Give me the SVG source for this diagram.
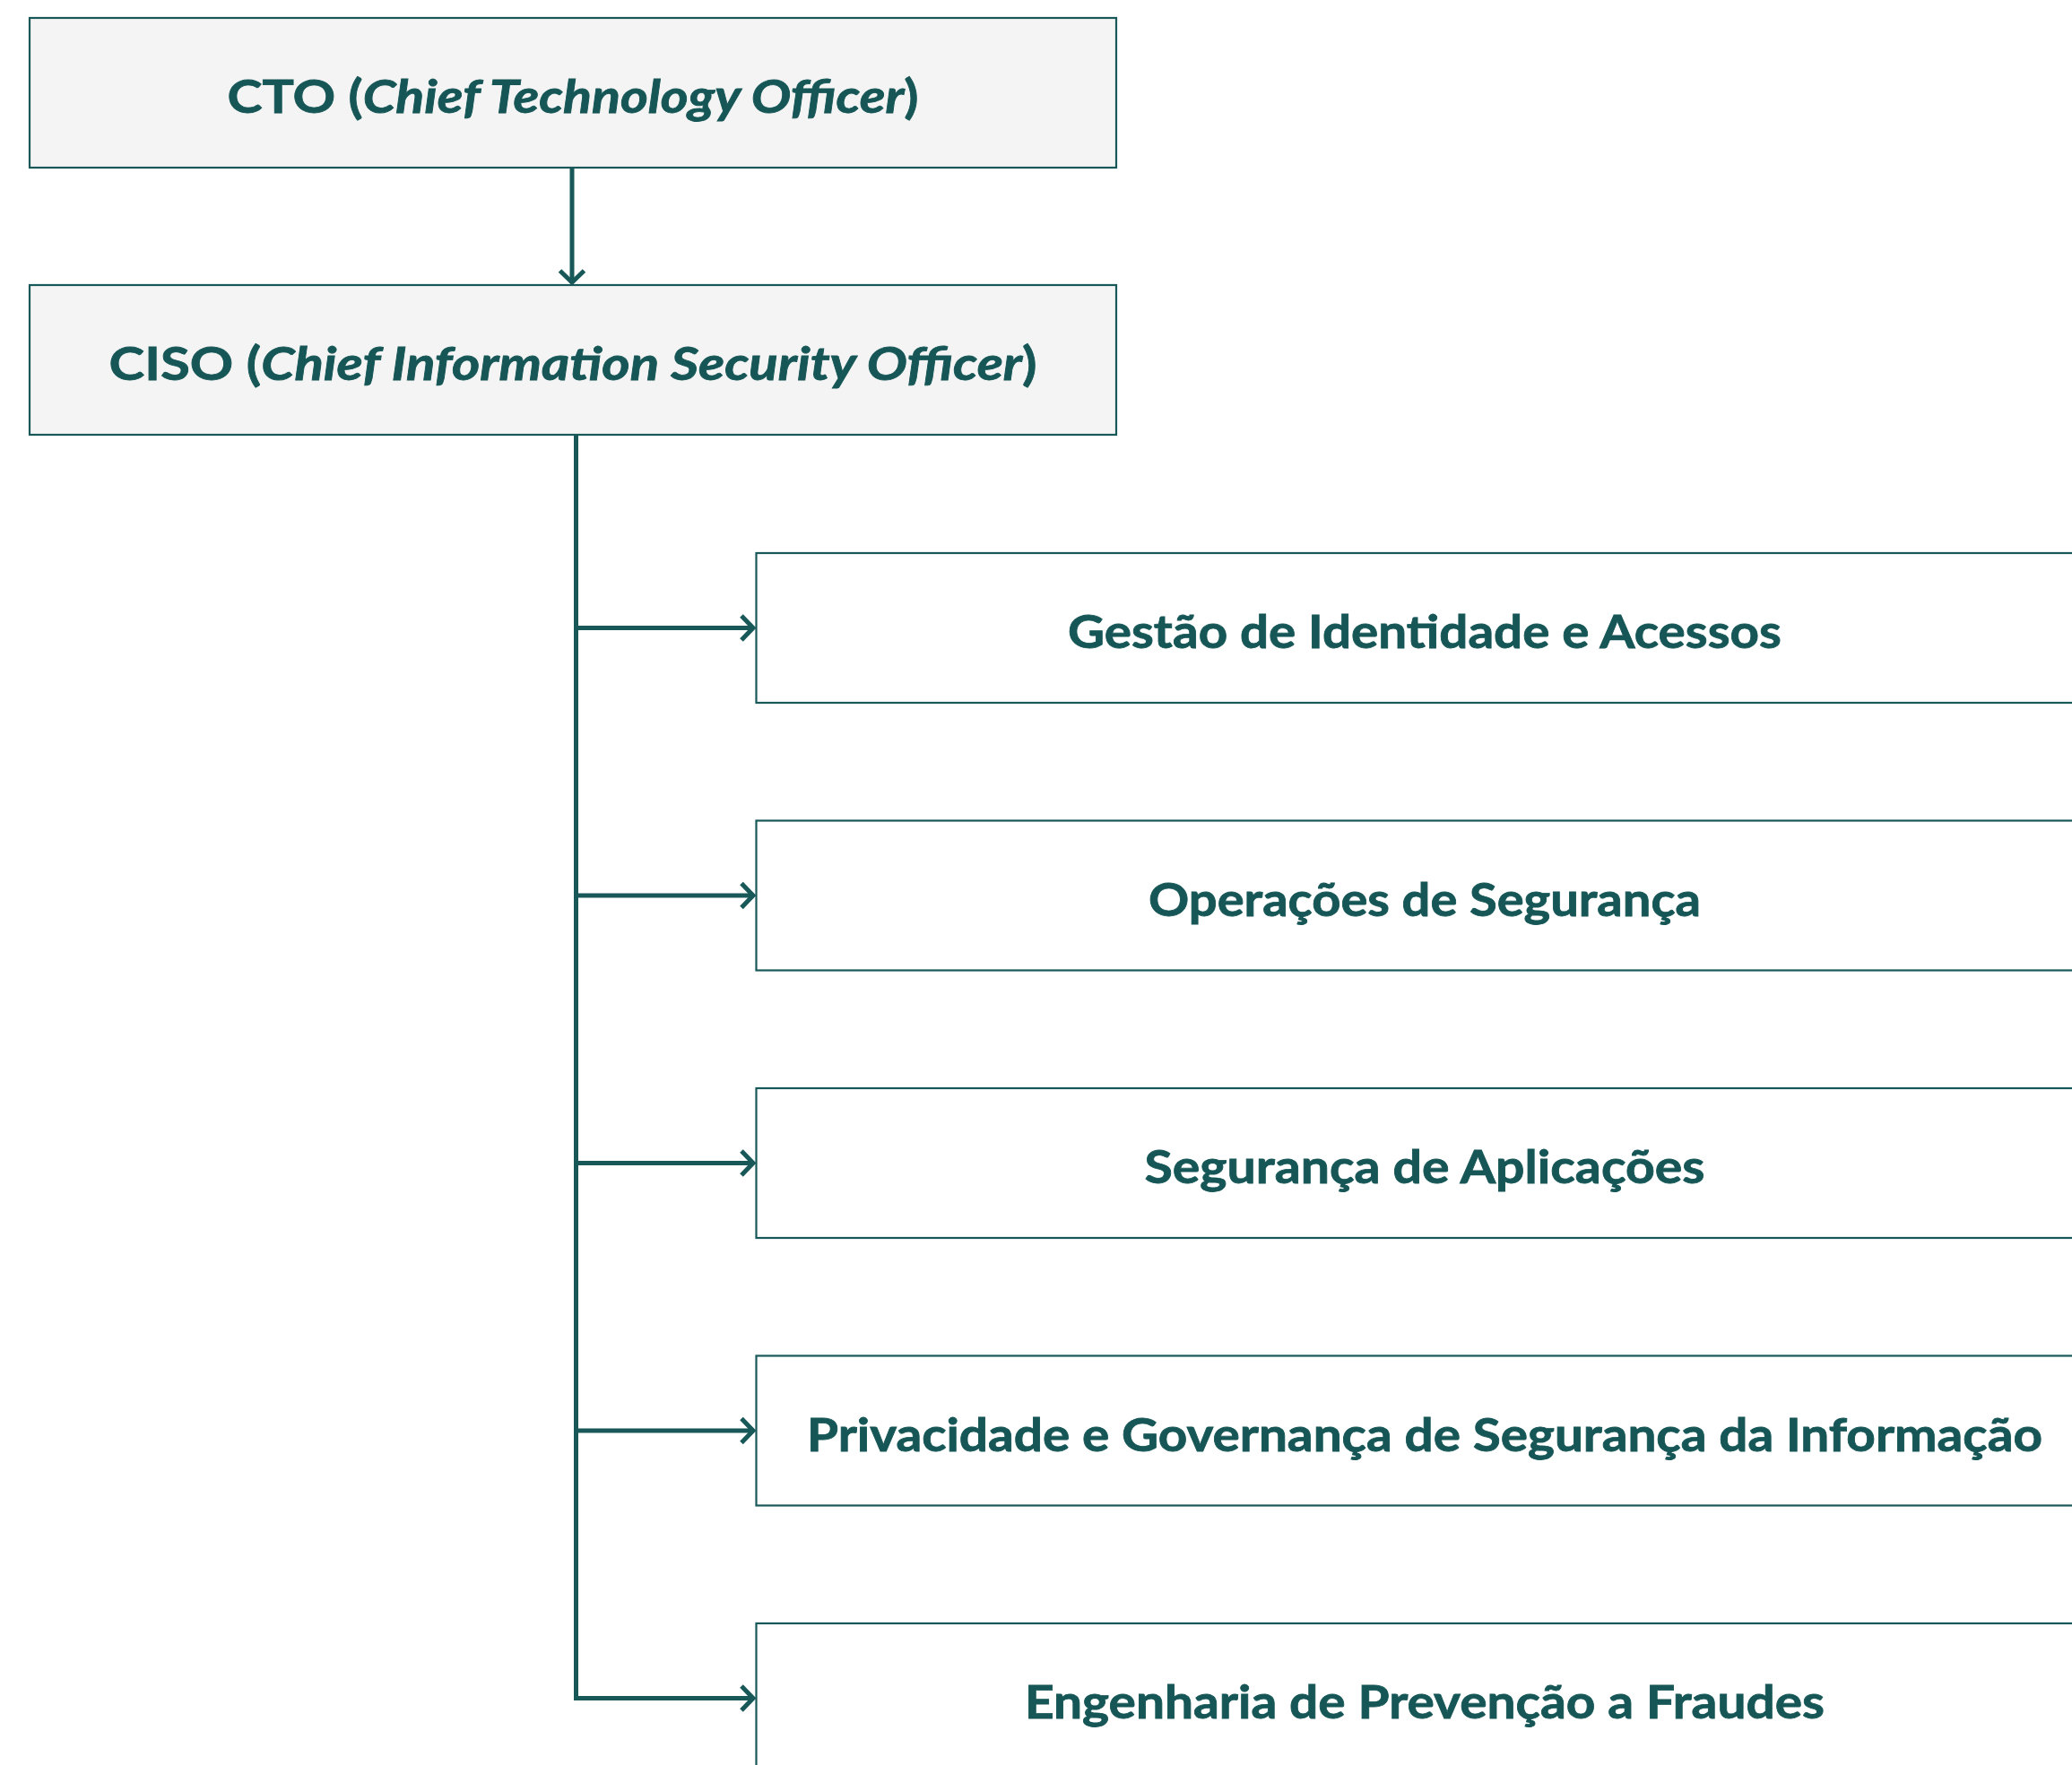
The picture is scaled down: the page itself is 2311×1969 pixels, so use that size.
<svg xmlns="http://www.w3.org/2000/svg" width="2311" height="1969" viewBox="0 0 2311 1969">
<defs>
<style>
.box{stroke:#185858;stroke-width:2.2;}
.top{fill:#f4f4f4;}
.child{fill:#ffffff;}
.lbl{font-family:Lato,"Open Sans","Liberation Sans",sans-serif;font-weight:700;font-size:51px;fill:#165656;text-anchor:middle;stroke:#165656;stroke-width:0.8;}
.it{font-style:italic;}
.conn{fill:none;stroke:#185858;stroke-width:5;}
</style>
<marker id="arr" viewBox="0 0 20 32" refX="17" refY="16" markerWidth="20" markerHeight="32" markerUnits="userSpaceOnUse" orient="auto">
<path d="M3,2.5 L16,16 L3,29.5" fill="none" stroke="#185858" stroke-width="5"/>
</marker>
</defs>
<rect width="2311" height="1969" fill="#ffffff"/>
<g id="connectors">
<path class="conn" d="M638,187 V316" marker-end="url(#arr)"/>
<path class="conn" d="M642.5,485 V1894.5 H841" marker-end="url(#arr)"/>
<path class="conn" d="M642.5,700.5 H841" marker-end="url(#arr)"/>
<path class="conn" d="M642.5,999 H841" marker-end="url(#arr)"/>
<path class="conn" d="M642.5,1297.5 H841" marker-end="url(#arr)"/>
<path class="conn" d="M642.5,1596 H841" marker-end="url(#arr)"/>
</g>
<g id="cto">
<rect class="box top" x="33" y="20" width="1212" height="167"/>
<text class="lbl" x="639" y="126" textLength="771" lengthAdjust="spacingAndGlyphs">CTO (<tspan class="it">Chief Technology Officer</tspan>)</text>
</g>
<g id="ciso">
<rect class="box top" x="33" y="318" width="1212" height="167"/>
<text class="lbl" x="639" y="424" textLength="1035" lengthAdjust="spacingAndGlyphs">CISO (<tspan class="it">Chief Information Security Officer</tspan>)</text>
</g>
<g id="gestao">
<rect class="box child" x="843.5" y="617" width="1500" height="167"/>
<text class="lbl" x="1589" y="723" textLength="796" lengthAdjust="spacingAndGlyphs">Gestão de Identidade e Acessos</text>
</g>
<g id="operacoes">
<rect class="box child" x="843.5" y="915.5" width="1500" height="167"/>
<text class="lbl" x="1589" y="1021.5" textLength="616" lengthAdjust="spacingAndGlyphs">Operações de Segurança</text>
</g>
<g id="aplicacoes">
<rect class="box child" x="843.5" y="1214" width="1500" height="167"/>
<text class="lbl" x="1589" y="1320" textLength="625" lengthAdjust="spacingAndGlyphs">Segurança de Aplicações</text>
</g>
<g id="privacidade">
<rect class="box child" x="843.5" y="1512.5" width="1500" height="167"/>
<text class="lbl" x="1589" y="1618.5" textLength="1378" lengthAdjust="spacingAndGlyphs">Privacidade e Governança de Segurança da Informação</text>
</g>
<g id="fraudes">
<rect class="box child" x="843.5" y="1811" width="1500" height="167"/>
<text class="lbl" x="1589" y="1917" textLength="892" lengthAdjust="spacingAndGlyphs">Engenharia de Prevenção a Fraudes</text>
</g>
</svg>
